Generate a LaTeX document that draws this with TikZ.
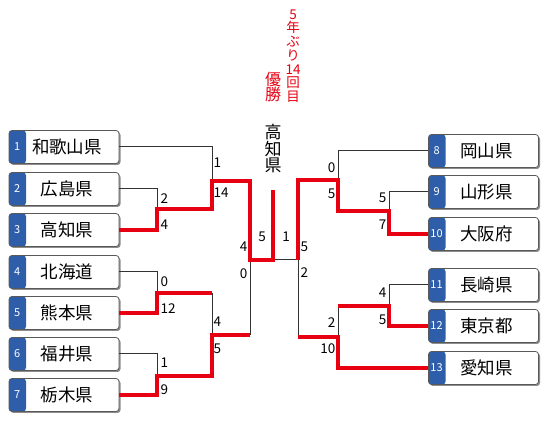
\documentclass[tikz,border=0pt]{standalone}
\definecolor{tabblue}{RGB}{46,94,170}
\definecolor{winred}{RGB}{230,0,18}
\usepackage{fontspec}
\setmainfont{Noto Sans CJK JP}
\usetikzlibrary{shadows,positioning}

\begin{document}
\begin{tikzpicture}[x=1pt, y=-1pt,
    team/.style={rectangle, rounded corners=3pt, draw=black!65, line width=0.8pt,
                 fill=white, minimum width=110pt, minimum height=33pt, inner sep=0pt,
                 font=\fontsize{17.5}{17.5}\selectfont,
                 drop shadow={shadow xshift=1.5pt, shadow yshift=-1.5pt, fill=black!45, opacity=1},
                 path picture={\fill[tabblue] (path picture bounding box.south west)
                     rectangle ([xshift=17pt]path picture bounding box.north west);},
                 execute at begin node={\hspace*{6pt}}},
    tabnum/.style={anchor=center, xshift=8.5pt, text=white, inner sep=0pt,
                   font=\fontsize{11}{11}\selectfont},
    score/.style={inner sep=0.5pt, font=\fontsize{13.5}{13.5}\selectfont},
    loser/.style={line width=1pt, black!80},
    winner/.style={line width=3.2pt, winred}]

\useasboundingbox (0,0) rectangle (550,425);

% Teams, left side
\node[team, label={[tabnum, name=n1]west:1}] (wakayama) at (64,147) {和歌山県};
\node[team, label={[tabnum, name=n2]west:2}] (hiroshima) at (64,189) {広島県};
\node[team, label={[tabnum, name=n3]west:3}] (kochi) at (64,230) {高知県};
\node[team, label={[tabnum, name=n4]west:4}] (hokkaido) at (64,272) {北海道};
\node[team, label={[tabnum, name=n5]west:5}] (kumamoto) at (64,313) {熊本県};
\node[team, label={[tabnum, name=n6]west:6}] (fukui) at (64,354) {福井県};
\node[team, label={[tabnum, name=n7]west:7}] (tochigi) at (64,395) {栃木県};

% Teams, right side
\node[team, label={[tabnum, name=n8]west:8}] (okayama) at (483.5,151) {岡山県};
\node[team, label={[tabnum, name=n9]west:9}] (yamagata) at (483.5,192) {山形県};
\node[team, label={[tabnum, name=n10]west:10}] (osaka) at (483.5,234) {大阪府};
\node[team, label={[tabnum, name=n11]west:11}] (nagasaki) at (483.5,285) {長崎県};
\node[team, label={[tabnum, name=n12]west:12}] (tokyo) at (483.5,326) {東京都};
\node[team, label={[tabnum, name=n13]west:13}] (aichi) at (483.5,368) {愛知県};

% Junctions
\coordinate (r1) at (157,209);
\coordinate (r2) at (157,293);
\coordinate (r3) at (157,376);
\coordinate (m1) at (212,181);
\coordinate (m2) at (212,335);
\coordinate (s1) at (250,260);
\coordinate (f) at (273,260);
\coordinate (top) at (273,190);
\coordinate (s2) at (298,260);
\coordinate (m3) at (338,180);
\coordinate (m4) at (338,337);
\coordinate (r4) at (389,211);
\coordinate (r5) at (389,306);

% Losing lines
\draw[loser] (wakayama.east) -| (m1);
\draw[loser] (hiroshima.east) -| (r1);
\draw[loser] (hokkaido.east) -| (r2);
\draw[loser] (r2 -| m2) -- (m2);
\draw[loser] (fukui.east) -| (r3);
\draw[loser] (m2 -| s1) -- (s1);
\draw[loser] (f) -- (s2);
\draw[loser] (okayama.west) -| (m3);
\draw[loser] (yamagata.west) -| (r4);
\draw[loser] (nagasaki.west) -| (r5);
\draw[loser] (r5 -| m4) -- (m4);
\draw[loser] (m4 -| s2) -- (s2);

% Winning lines
\draw[winner] (kochi.east) -| (r1) -| (m1) -| (s1) -- (f) -- (top);
\draw[winner] (kumamoto.east) -| (r2) -- (r2 -| m2);
\draw[winner] (tochigi.east) -| (r3) -| (m2) -- (m2 -| s1);
\draw[winner] (osaka.west) -| (r4) -| (m3) -| (s2);
\draw[winner] (tokyo.west) -| (r5) -- (r5 -| m4);
\draw[winner] (aichi.west) -| (m4) -- (m4 -| s2);

% Scores
\node[score, anchor=west] (sc1) at (213,163) {1};
\node[score, anchor=west] (sc2) at (213,193) {14};
\node[score, anchor=west] (sc3) at (160,199) {2};
\node[score, anchor=west] (sc4) at (160,225) {4};
\node[score, anchor=west] (sc5) at (160,282) {0};
\node[score, anchor=west] (sc6) at (160,309) {12};
\node[score, anchor=west] (sc7) at (213,322) {4};
\node[score, anchor=west] (sc8) at (213,349) {5};
\node[score, anchor=west] (sc9) at (160,363) {1};
\node[score, anchor=west] (sc10) at (160,390) {9};
\node[score, anchor=east] (sc11) at (248,247) {4};
\node[score, anchor=east] (sc12) at (248,274) {0};
\node[score] (sc13) at (262,237) {5};
\node[score] (sc14) at (286,237) {1};
\node[score, anchor=west] (sc15) at (300,247) {5};
\node[score, anchor=west] (sc16) at (300,273) {2};
\node[score, anchor=east] (sc17) at (336,168) {0};
\node[score, anchor=east] (sc18) at (336,194) {5};
\node[score, anchor=east] (sc19) at (387,198) {5};
\node[score, anchor=east] (sc20) at (387,225) {7};
\node[score, anchor=east] (sc21) at (387,293) {4};
\node[score, anchor=east] (sc22) at (387,320) {5};
\node[score, anchor=east] (sc23) at (336,323) {2};
\node[score, anchor=east] (sc24) at (336,349) {10};

% Champion
\node[align=center, inner sep=0pt, text=winred, font=\fontsize{13.5}{13.7}\selectfont]
    (record) at (293,56) {5\\年\\ぶ\\り\\14\\回\\目};
\node[align=center, inner sep=0pt, text=winred, font=\fontsize{16}{15.5}\selectfont]
    (yusho) at (273,87) {優\\勝};
\node[align=center, inner sep=0pt, font=\fontsize{17}{16.5}\selectfont]
    (champ) at (273,149) {高\\知\\県};
\end{tikzpicture}
\end{document}
